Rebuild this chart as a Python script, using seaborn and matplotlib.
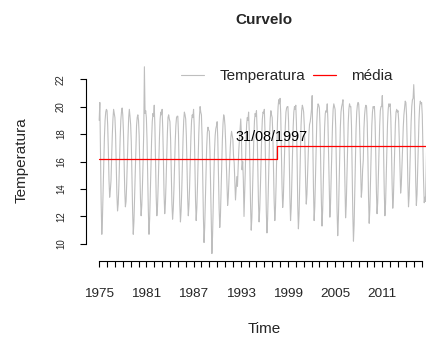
import numpy as np
import pandas as pd
import matplotlib
matplotlib.use("Agg")
import matplotlib.pyplot as plt
import seaborn as sns

# ---------------- data ----------------
start_year = 1975
freq = 12
temperatura = [
    19.0, 20.3, 16.4, 13.0, 10.7, 11.9, 13.8, 15.9, 17.8, 19.0, 19.6, 19.8,  # 1975
    19.7, 18.6, 16.8, 14.6, 13.4, 13.9, 14.6, 16.2, 17.9, 19.1, 19.8, 19.5,  # 1976
    19.2, 18.0, 15.9, 13.6, 12.4, 12.9, 14.2, 15.9, 17.7, 19.0, 19.6, 19.9,  # 1977
    19.4, 18.2, 16.0, 13.9, 12.7, 13.1, 14.4, 16.1, 17.8, 19.2, 19.8, 19.3,  # 1978
    18.7, 17.4, 15.0, 12.4, 10.7, 11.6, 13.4, 15.4, 17.2, 18.6, 19.2, 19.4,  # 1979
    19.0, 17.9, 15.6, 13.3, 12.05, 12.8, 14.2, 16.0, 18.2, 22.9, 19.5, 19.7,  # 1980
    19.2, 17.6, 15.0, 12.4, 10.7, 11.8, 13.6, 15.6, 17.6, 18.9, 19.5, 19.3,  # 1981
    20.1, 18.6, 16.0, 13.4, 12.05, 12.7, 14.2, 16.0, 17.8, 19.1, 19.6, 19.4,  # 1982
    19.8, 18.4, 16.2, 13.6, 12.2, 12.9, 14.4, 16.2, 18.0, 19.2, 19.4, 19.1,  # 1983
    18.9, 17.6, 15.3, 12.9, 11.8, 12.5, 13.9, 15.6, 17.4, 18.6, 19.2, 19.3,  # 1984
    19.3, 18.0, 15.6, 12.9, 11.6, 12.4, 13.9, 15.8, 17.7, 19.0, 19.6, 19.4,  # 1985
    19.1, 17.9, 15.8, 13.4, 12.05, 12.8, 14.2, 16.0, 17.8, 19.0, 19.4, 19.2,  # 1986
    19.8, 18.6, 16.0, 13.2, 11.7, 12.6, 14.2, 16.1, 18.0, 19.3, 20.0, 19.6,  # 1987
    19.4, 17.8, 15.0, 12.0, 10.1, 11.2, 13.2, 15.2, 17.0, 18.1, 18.5, 18.3,  # 1988
    18.2, 16.8, 14.2, 11.4, 9.3, 10.6, 12.8, 14.9, 16.8, 17.9, 18.4, 18.6,  # 1989
    18.9, 17.6, 15.2, 12.6, 11.2, 12.0, 13.8, 15.7, 17.6, 18.8, 19.4, 19.2,  # 1990
    18.6, 17.4, 15.8, 14.0, 12.8, 13.4, 14.6, 15.9, 17.0, 17.8, 18.2, 17.9,  # 1991
    17.6, 16.4, 15.9, 14.6, 13.2, 14.1, 14.9, 14.2, 15.6, 16.8, 17.6, 18.5,  # 1992
    19.1, 18.0, 15.4, 16.0, 14.6, 12.0, 13.6, 15.4, 17.4, 18.7, 19.2, 19.0,  # 1993
    19.6, 18.2, 15.6, 12.8, 11.0, 11.9, 13.8, 15.8, 17.8, 19.0, 19.5, 19.3,  # 1994
    19.7, 18.3, 15.9, 13.1, 11.6, 12.5, 14.1, 16.0, 17.9, 19.1, 19.6, 19.5,  # 1995
    19.8, 18.2, 15.4, 12.4, 10.8, 11.8, 13.8, 15.9, 17.8, 19.1, 19.7, 19.4,  # 1996
    19.2, 17.9, 15.6, 13.1, 11.7, 12.6, 14.4, 16.6, 18.8, 20.0, 20.5, 20.2,  # 1997
    20.6, 19.5, 17.0, 14.2, 12.65, 13.3, 15.0, 16.9, 18.6, 19.6, 19.9, 20.0,  # 1998
    20.0, 18.9, 16.4, 13.4, 11.7, 12.6, 14.6, 16.7, 18.5, 19.6, 20.0, 19.8,  # 1999
    20.1, 18.8, 16.2, 12.8, 11.1, 12.2, 14.4, 16.6, 18.6, 19.7, 20.1, 19.9,  # 2000
    19.6, 18.6, 17.0, 14.6, 12.9, 13.6, 15.0, 16.6, 18.0, 18.7, 18.9, 19.3,  # 2001
    19.8, 20.8, 17.4, 14.0, 11.7, 12.7, 14.8, 16.9, 18.8, 19.8, 20.2, 20.1,  # 2002
    19.9, 18.6, 16.0, 13.2, 11.3, 12.4, 14.5, 16.6, 18.5, 19.5, 19.7, 19.6,  # 2003
    20.2, 19.0, 16.6, 13.8, 11.95, 12.9, 14.8, 16.8, 18.6, 19.8, 20.2, 20.0,  # 2004
    19.8, 18.4, 15.6, 12.4, 10.6, 11.8, 14.0, 16.4, 18.5, 19.6, 20.0, 20.2,  # 2005
    20.5, 19.4, 16.8, 13.8, 11.9, 12.8, 14.8, 16.9, 18.8, 19.8, 20.2, 20.0,  # 2006
    20.0, 18.6, 15.6, 12.2, 10.2, 11.4, 13.8, 16.2, 18.4, 19.6, 20.1, 20.3,  # 2007
    20.2, 19.2, 17.2, 15.0, 13.4, 14.0, 15.4, 16.1, 18.4, 19.4, 19.9, 20.1,  # 2008
    20.0, 18.8, 16.4, 13.4, 11.5, 12.5, 14.6, 16.7, 18.6, 19.6, 20.0, 19.9,  # 2009
    20.0, 18.9, 16.6, 13.9, 12.2, 13.0, 14.8, 16.8, 18.6, 19.7, 20.0, 20.0,  # 2010
    20.8, 19.6, 16.8, 13.8, 12.05, 12.9, 14.9, 16.9, 18.8, 19.8, 20.2, 20.0,  # 2011
    20.2, 19.2, 17.0, 14.3, 12.6, 13.4, 15.1, 17.0, 18.8, 19.6, 19.8, 19.6,  # 2012
    19.7, 19.0, 17.4, 15.4, 13.7, 14.3, 15.6, 17.0, 18.5, 19.4, 19.9, 20.4,  # 2013
    20.3, 19.4, 17.2, 14.5, 12.7, 13.5, 15.2, 17.1, 18.9, 20.0, 20.5, 20.6,  # 2014
    21.6, 20.4, 17.6, 14.6, 12.8, 13.6, 15.3, 17.2, 19.0, 20.0, 20.4, 20.2,  # 2015
    20.3, 19.4, 17.0, 14.6, 13.0, 13.4, 13.1, 15.6, 17.8, 19.2, 19.6, 19.9,  # 2016
]
mean_before = 16.2
mean_after = 17.15
break_year, break_month = 1997, 8
break_label = "31/08/1997"
tick_years = list(range(1975, 2017))
label_years = [1975, 1981, 1987, 1993, 1999, 2005, 2011]
title = "Curvelo"
xlabel = "Time"
ylabel = "Temperatura"
y_ticks = [10, 12, 14, 16, 18, 20, 22]

# ---------------- build ----------------
temps = np.array(temperatura, dtype=float)
t = start_year + np.arange(len(temps)) / freq
t_break = break_year + (break_month - 1) / freq
media = np.where(t < t_break, mean_before, mean_after)
df = pd.DataFrame({"time": t, "temp": temps, "media": media})

sns.set_theme(style="white")
plt.rcParams["font.family"] = ["Liberation Sans", "DejaVu Sans"]

W, H = 427, 338
fig = plt.figure(figsize=(W / 100, H / 100), dpi=100)
ax = fig.add_axes([86 / W, (H - 261) / H, 356 / W, 201.7 / H])

sns.lineplot(data=df, x="time", y="temp", ax=ax, color="#BEBEBE", lw=0.8,
             estimator=None, label="Temperatura")
sns.lineplot(data=df, x="time", y="media", ax=ax, color="#FF0000", lw=0.9,
             estimator=None, drawstyle="steps-post", label="média")

# R-like 4% axis extension
x0, x1 = t.min(), t.max()
y0, y1 = temps.min(), temps.max()
ax.set_xlim(x0 - 0.04 * (x1 - x0), x1 + 0.04 * (x1 - x0))
ax.set_ylim(y0 - 0.04 * (y1 - y0), y1 + 0.04 * (y1 - y0))

ax.text(t_break - 0.7, mean_after + 0.62, break_label, ha="center",
        va="center", fontsize=10.4, color="black")

for s in ["top", "right"]:
    ax.spines[s].set_visible(False)
for s in ["left", "bottom"]:
    ax.spines[s].set_color("black")
    ax.spines[s].set_linewidth(0.8)
ax.spines["bottom"].set_bounds(tick_years[0], tick_years[-1])
ax.spines["left"].set_bounds(y_ticks[0], y_ticks[-1])

ax.set_xticks(tick_years)
ax.set_xticklabels([str(y) if y in label_years else "" for y in tick_years])
ax.set_yticks(y_ticks)
ax.set_yticklabels([str(v) for v in y_ticks])
ax.tick_params(axis="x", direction="out", length=4, width=0.8, color="black",
               bottom=True, labelsize=9.7, pad=15.5)
ax.tick_params(axis="y", direction="out", length=4, width=0.8, color="black",
               left=True, labelsize=7, pad=10.5, labelrotation=90)
for lab in ax.get_yticklabels():
    lab.set_va("center")

ax.set_xlabel(xlabel, fontsize=11)
ax.set_ylabel(ylabel, fontsize=11)
ax.xaxis.label.set_va("center")
ax.yaxis.label.set_va("center")
ax.xaxis.set_label_coords(0.5, -0.337)
ax.yaxis.set_label_coords(-0.180, 0.5)
ax.set_title(title, fontsize=11, fontweight="bold", y=1.193, va="center", pad=0)

ax.legend(loc="center", bbox_to_anchor=(287 / W, 1 - 76 / H),
          bbox_transform=fig.transFigure, ncol=2, frameon=False,
          handlelength=1.5, handletextpad=1.0, columnspacing=0.55,
          fontsize=11, borderpad=0.2)

fig.savefig("out.png", dpi=100)
